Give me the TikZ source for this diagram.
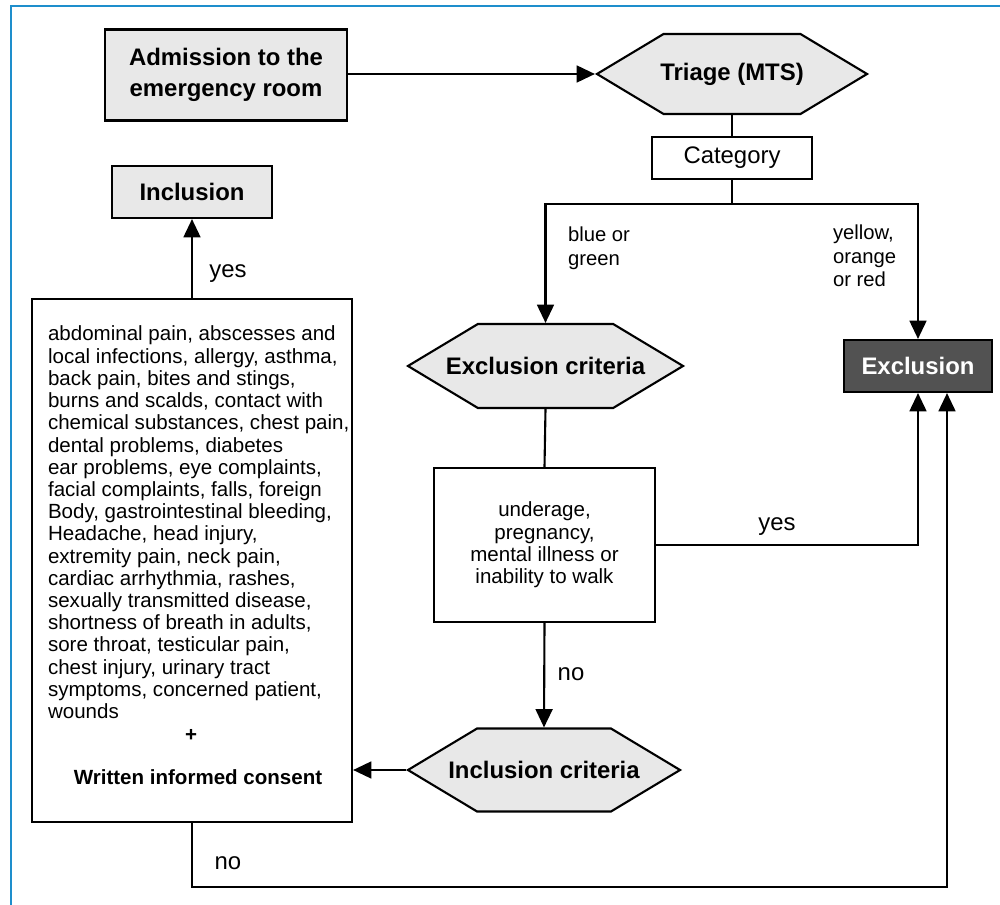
\documentclass[tikz,border=0pt]{standalone}
\usepackage{fontspec}
\setmainfont{Liberation Sans}
\usetikzlibrary{shapes.symbols,arrows.meta}
\definecolor{framebl}{RGB}{30,142,204}
\definecolor{boxgray}{RGB}{232,232,232}
\definecolor{darkbox}{RGB}{82,82,82}
\begin{document}
\begin{tikzpicture}[x=0.025cm, y=-0.025cm, line width=1.5pt,
    head/.style={font=\fontsize{17}{22}\selectfont\bfseries},
    body/.style={font=\fontsize{14.6}{15.8}\selectfont},
    hexbox/.style={draw, fill=boxgray, signal, signal to=east and west,
        signal pointer angle=62, inner ysep=0pt, inner xsep=-1cm, head},
    plainbox/.style={draw, rectangle, inner sep=0pt},
    lbl/.style={font=\fontsize{17}{20}\selectfont, inner sep=0pt},
    arr/.style={-{Triangle[length=13pt,width=12pt]}}]
    % Background
    \useasboundingbox (0,0) rectangle (1000,905);
    \draw[framebl, line width=1.6pt] (11,905) -- (11,6) -- (1000,6);

    % Triage path
    \node[plainbox, fill=boxgray, head, align=center, minimum width=6.05cm, minimum height=2.275cm] (admit) at (226,75) {Admission to the\\emergency room};
    \node[hexbox, minimum width=6.75cm, minimum height=2cm] (triage) at (732,74) {Triage (MTS)};
    \node[plainbox, font=\fontsize{17}{20}\selectfont, minimum width=4cm, minimum height=1.05cm] (cat) at (732,158) {Category};

    % Exclusion side
    \node[hexbox, minimum width=6.875cm, minimum height=2.1cm] (exccrit) at (545.5,366) {Exclusion criteria};
    \node[plainbox, fill=darkbox, text=white, head, minimum width=3.7cm, minimum height=1.3cm] (excl) at (918,366) {Exclusion};
    \node[plainbox, body, align=center, minimum width=5.525cm, minimum height=3.85cm] (under) at (544.5,545) {underage,\\pregnancy,\\mental illness or\\inability to walk};
    \node[hexbox, minimum width=6.8cm, minimum height=2.075cm] (inccrit) at (544,770) {Inclusion criteria};

    % Inclusion side
    \node[plainbox, minimum width=8cm, minimum height=13.075cm] (crit) at (192,560.5) {};
    \node[plainbox, fill=boxgray, head, minimum width=4cm, minimum height=1.3cm] (incl) at (192,192) {Inclusion};
    \node[body, align=left, anchor=north west, inner sep=0pt] (symptoms) at (47,325) {abdominal pain, abscesses and\\
        local infections, allergy, asthma,\\
        back pain, bites and stings,\\
        burns and scalds, contact with\\
        chemical substances, chest pain,\\
        dental problems, diabetes\\
        ear problems, eye complaints,\\
        facial complaints, falls, foreign\\
        Body, gastrointestinal bleeding,\\
        Headache, head injury,\\
        extremity pain, neck pain,\\
        cardiac arrhythmia, rashes,\\
        sexually transmitted disease,\\
        shortness of breath in adults,\\
        sore throat, testicular pain,\\
        chest injury, urinary tract\\
        symptoms, concerned patient,\\
        wounds};
    \node[font=\fontsize{14.6}{16}\selectfont\bfseries, inner sep=0pt] (plus) at (191,735) {+};
    \node[font=\fontsize{14.6}{16}\selectfont\bfseries, inner sep=0pt] (consent) at (198,777) {Written informed consent};

    % Connectors
    \draw[arr] (admit.east |- triage.west) -- (triage.west);
    \draw (triage.south) -- (cat.north);
    \draw (cat.south) -- ++(0,24) coordinate (split);
    \draw[arr] (split) -| (exccrit.north);
    \draw[arr] (split) -| (excl.north);
    \draw (exccrit.south) -- (under.north);
    \draw[arr] (under.east) -| (excl.south);
    \draw[arr] (under.south) -- (inccrit.north);
    \draw[arr] (inccrit.west) -- (inccrit.west -| crit.east);
    \draw[arr] (crit.north) -- (incl.south);
    \draw[arr] (crit.south) -- ++(0,64) -| ([xshift=0.725cm]excl.south);

    % Labels
    \node[lbl, align=left, anchor=west, font=\fontsize{14.4}{16.8}\selectfont] (bluegreen) at (567,248.5) {blue or\\green};
    \node[lbl, align=left, anchor=west, font=\fontsize{14.4}{16.8}\selectfont] (yor) at (832,256) {yellow,\\orange\\or red};
    \node[lbl] (yesincl) at (228,274) {yes};
    \node[lbl] (yesexcl) at (777,527) {yes};
    \node[lbl] (nocrit) at (571,674) {no};
    \node[lbl] (noexcl) at (228,863) {no};
\end{tikzpicture}
\end{document}
